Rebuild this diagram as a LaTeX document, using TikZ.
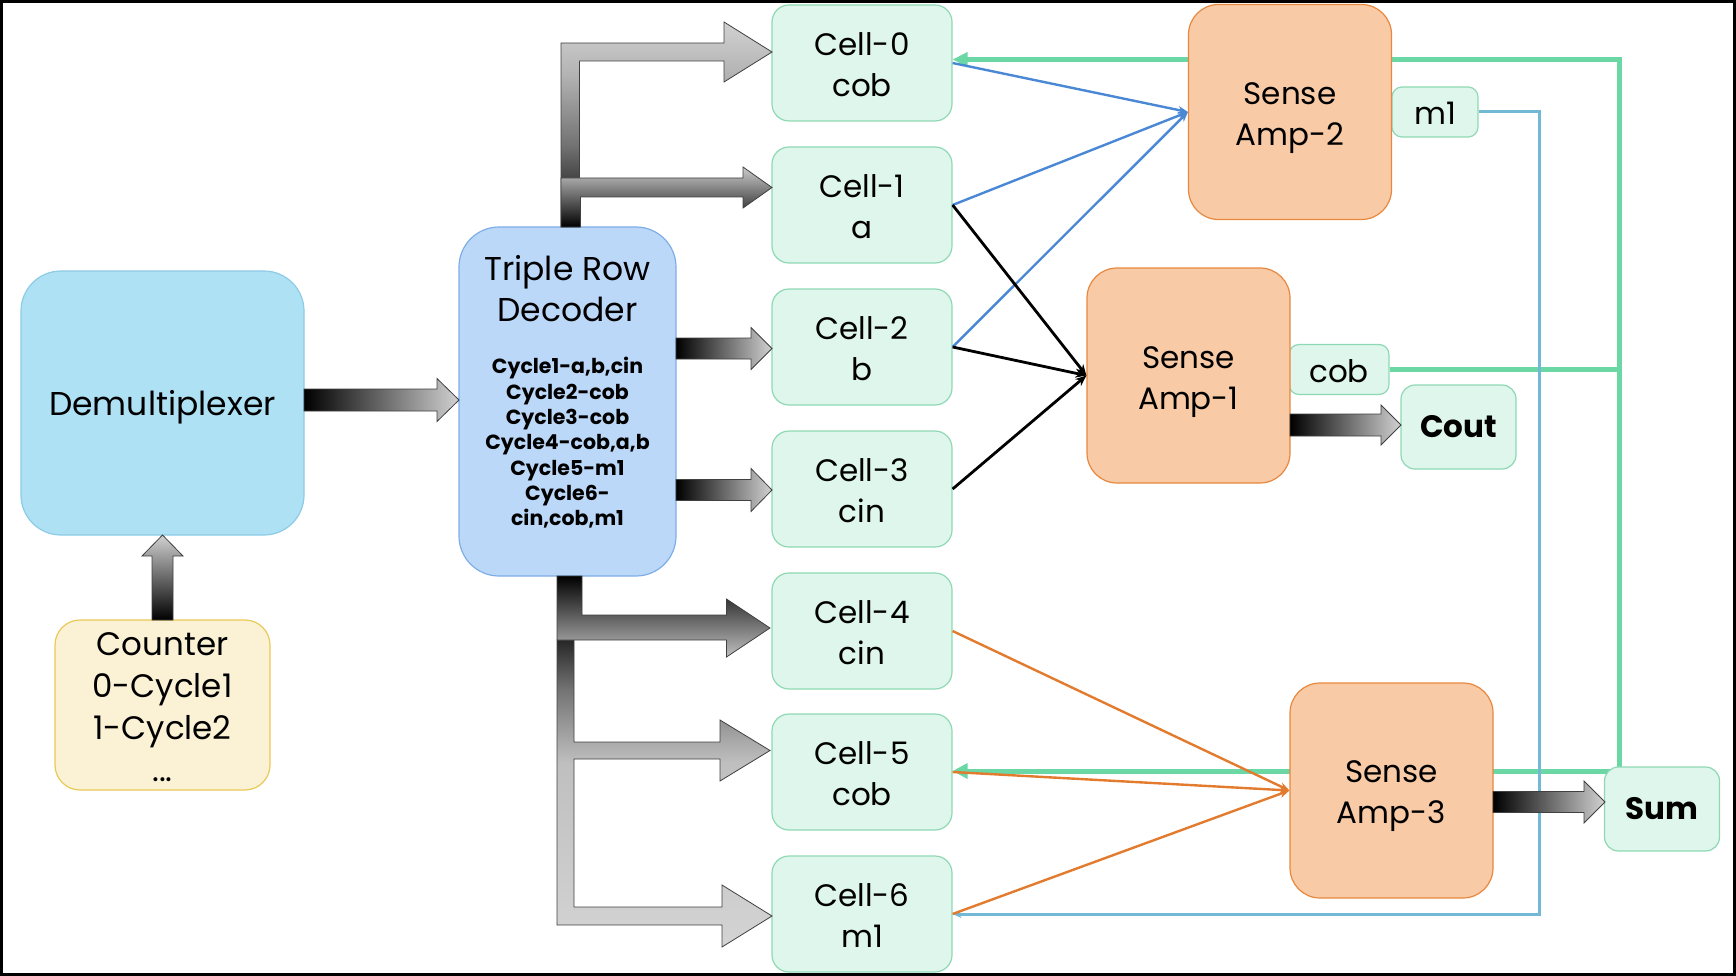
\documentclass[tikz,border=0pt]{standalone}
\usepackage{fontspec}
\setmainfont{Poppins}
\usetikzlibrary{arrows.meta,calc}
\pgfdeclarelayer{bg}
\pgfsetlayers{bg,main}
\definecolor{demuxF}{HTML}{ADE1F3}
\definecolor{demuxD}{HTML}{8DCBE6}
\definecolor{cntF}{HTML}{FBF2D5}
\definecolor{cntD}{HTML}{E9C957}
\definecolor{decF}{HTML}{BCD8F8}
\definecolor{decD}{HTML}{7EAEE6}
\definecolor{cellF}{HTML}{DEF6EB}
\definecolor{cellD}{HTML}{8FD8B4}
\definecolor{ampF}{HTML}{F8CAA6}
\definecolor{ampD}{HTML}{E8883E}
\definecolor{lnBlue}{HTML}{4A88D6}
\definecolor{lnOrange}{HTML}{E27B2E}
\definecolor{lnGreen}{HTML}{6AD7A4}
\definecolor{lnLBlue}{HTML}{72B9D6}
\pgfdeclareverticalshading{lowbent}{100bp}{color(0bp)=(black!17); color(25bp)=(black!17); color(55bp)=(black!25); color(67bp)=(black!55); color(75bp)=(black!85); color(100bp)=(black!85)}
\pgfdeclareverticalshading{topbent}{100bp}{color(0bp)=(black); color(25bp)=(black); color(45bp)=(black!55); color(62bp)=(black!30); color(75bp)=(black!18); color(100bp)=(black!18)}
\newcommand\fatH[6]{\shadedraw[fatarrow, left color=black, right color=black!18] ({#1},{#3-#4}) -- ({#2-#6},{#3-#4}) -- ({#2-#6},{#3-#5}) -- ({#2},{#3}) -- ({#2-#6},{#3+#5}) -- ({#2-#6},{#3+#4}) -- ({#1},{#3+#4}) -- cycle;}
\begin{document}
\begin{tikzpicture}[x=1pt,y=-1pt,
  blockbox/.style={draw, line width=1.2pt, inner sep=0pt},
  txt/.style={align=center, inner sep=0pt, font=\fontsize{31}{41}\selectfont},
  bigtxt/.style={align=center, inner sep=0pt, font=\fontsize{33}{41}\selectfont},
  cyctxt/.style={align=center, inner sep=0pt, font=\bfseries\fontsize{20.5}{25.3}\selectfont},
  boldtxt/.style={align=center, inner sep=0pt, font=\bfseries\fontsize{31}{41}\selectfont},
  cellbox/.style={blockbox, fill=cellF, draw=cellD, rounded corners=17pt, minimum width=180pt, minimum height=116pt},
  ampbox/.style={blockbox, fill=ampF, draw=ampD, rounded corners=30pt, minimum width=203pt, minimum height=215pt},
  smallbox/.style={blockbox, fill=cellF, draw=cellD, rounded corners=10pt},
  fatarrow/.style={draw=black!75, line width=0.8pt},
  bline/.style={draw=lnBlue, line width=2.4pt, -{Stealth[length=10pt,width=8pt]}},
  kline/.style={draw=black, line width=2.8pt, -{Stealth[length=11pt,width=9pt]}},
  oline/.style={draw=lnOrange, line width=2.4pt, -{Stealth[length=10pt,width=8pt]}},
  gline/.style={draw=lnGreen, line width=5pt, line join=miter},
  lbline/.style={draw=lnLBlue, line width=3pt, line join=miter}]
\useasboundingbox (0,0) rectangle (1736,976);

% blocks
\node[blockbox, fill=demuxF, draw=demuxD, rounded corners=40pt, minimum width=283pt, minimum height=264pt] (demux) at (162.5,403) {};
\node[bigtxt] (demuxT) at ($(demux)+(0,4.5)$) {Demultiplexer};
\node[blockbox, fill=cntF, draw=cntD, rounded corners=25pt, minimum width=215pt, minimum height=170pt] (counter) at (162.5,705) {};
\node[bigtxt, font=\fontsize{32.5}{42}\selectfont] (counterT) at ($(counter)+(0,2)$) {Counter\\0-Cycle1\\1-Cycle2\\...};
\node[blockbox, fill=decF, draw=decD, rounded corners=40pt, minimum width=217pt, minimum height=349pt] (dec) at (567.5,401.5) {};
\node[bigtxt] (dectitle) at (567.5,288.5) {Triple Row\\Decoder};
\node[cyctxt] (deccyc) at (567.5,443) {Cycle1-a,b,cin\\Cycle2-cob\\Cycle3-cob\\Cycle4-cob,a,b\\Cycle5-m1\\Cycle6-\\cin,cob,m1};

\node[cellbox] (c0) at (862,63) {};
\node[cellbox] (c1) at (862,205) {};
\node[cellbox] (c2) at (862,347) {};
\node[cellbox] (c3) at (862,489) {};
\node[cellbox] (c4) at (862,631) {};
\node[cellbox] (c5) at (862,772) {};
\node[cellbox] (c6) at (862,914) {};
\node[txt] (c0T) at ($(c0)+(0,1.5)$) {Cell-0\\cob};
\node[txt] (c1T) at ($(c1)+(0,1.5)$) {Cell-1\\a};
\node[txt] (c2T) at ($(c2)+(0,1.5)$) {Cell-2\\b};
\node[txt] (c3T) at ($(c3)+(0,1.5)$) {Cell-3\\cin};
\node[txt] (c4T) at ($(c4)+(0,1.5)$) {Cell-4\\cin};
\node[txt] (c5T) at ($(c5)+(0,1.5)$) {Cell-5\\cob};
\node[txt] (c6T) at ($(c6)+(0,1.5)$) {Cell-6\\m1};

\node[smallbox, minimum width=86pt, minimum height=50pt] (m1) at (1435,112) {};
\node[txt] (m1T) at ($(m1)+(0,1.5)$) {m1};
\node[smallbox, minimum width=100pt, minimum height=50pt] (cob) at (1339,369.5) {};
\node[txt] (cobT) at ($(cob)+(0,2)$) {cob};

% feedback lines (behind)
\begin{pgfonlayer}{bg}
\coordinate (gtop) at (1619,59.5);
\coordinate (gbot) at (1619,771);
\coordinate (bcor) at (1539,914);
\draw[gline, -{Triangle[length=15pt,width=14pt]}] (gbot) -- (gtop) -- (c0.east |- gtop);
\draw[gline, -{Triangle[length=15pt,width=15pt]}] (gbot) -- (c5.east |- gbot);
\draw[gline] (cob.east) -- (cob.east -| gtop);
\draw[lbline, -{Stealth[length=9pt,width=8pt]}] (m1.east) -| (bcor) -- (c6.east);
\end{pgfonlayer}

\node[ampbox] (amp2) at (1290,112) {};
\node[ampbox] (amp1) at (1188.5,375.5) {};
\node[ampbox] (amp3) at (1391.5,790.5) {};
\node[txt] (amp2T) at ($(amp2)+(0,6)$) {Sense\\Amp-2};
\node[txt] (amp1T) at ($(amp1)+(0,6.5)$) {Sense\\Amp-1};
\node[txt] (amp3T) at ($(amp3)+(0,6)$) {Sense\\Amp-3};
\node[smallbox, rounded corners=14pt, minimum width=115pt, minimum height=84pt] (cout) at (1458.5,427) {};
\node[boldtxt] (coutT) at (cout) {Cout};
\node[smallbox, rounded corners=14pt, minimum width=115pt, minimum height=84pt] (sum) at (1662,809) {};
\node[boldtxt] (sumT) at (sum) {Sum};

% fat arrows
\shadedraw[fatarrow, bottom color=black, top color=black!18] (152,620) -- (152,556) -- (142,556) -- (162.5,535) -- (183,556) -- (173,556) -- (173,620) -- cycle;
\fatH{304}{459}{400}{11}{21.5}{22}
\fatH{676}{772}{348.5}{10.5}{21}{21}
\fatH{676}{772}{490}{10.5}{21.5}{21}
\fatH{1290}{1401}{425}{11}{20}{20}
\fatH{1493}{1605}{802}{10.5}{21}{21}

\shadedraw[fatarrow, shading=topbent] (561,227) -- (561,43) -- (724,43) -- (724,22) -- (772,52) -- (724,82) -- (724,61) -- (579.5,61) -- (579.5,227) -- cycle;
\shadedraw[fatarrow, top color=black!20, bottom color=black] (561,227) -- (561,178) -- (743,178) -- (743,167) -- (772,187.5) -- (743,208) -- (743,197) -- (580.5,197) -- (580.5,227) -- cycle;
\shadedraw[fatarrow, shading=lowbent] (557,640) -- (574,640) -- (574,742) -- (720,742) -- (720,720) -- (770,750.5) -- (720,781) -- (720,759) -- (574,759) -- (574,907) -- (722,907) -- (722,885) -- (772,916) -- (722,947) -- (722,925) -- (557,925) -- cycle;
\shadedraw[fatarrow, top color=black, bottom color=black!25] (557,576) -- (582,576) -- (582,615) -- (726.5,615) -- (726.5,599) -- (770,628) -- (726.5,657) -- (726.5,640) -- (557,640) -- cycle;

% thin connectors
\draw[bline] (c0.east) -- (amp2.west);
\draw[bline] (c1.east) -- (amp2.west);
\draw[bline] (c2.east) -- (amp2.west);
\draw[kline] (c1.east) -- (amp1.west);
\draw[kline] (c2.east) -- (amp1.west);
\draw[kline] (c3.east) -- (amp1.west);
\draw[oline] (c4.east) -- (amp3.west);
\draw[oline] (c5.east) -- (amp3.west);
\draw[oline] (c6.east) -- (amp3.west);

% frame
\draw[line width=3pt] (1.5,1.5) rectangle (1734.5,974.5);
\end{tikzpicture}
\end{document}
